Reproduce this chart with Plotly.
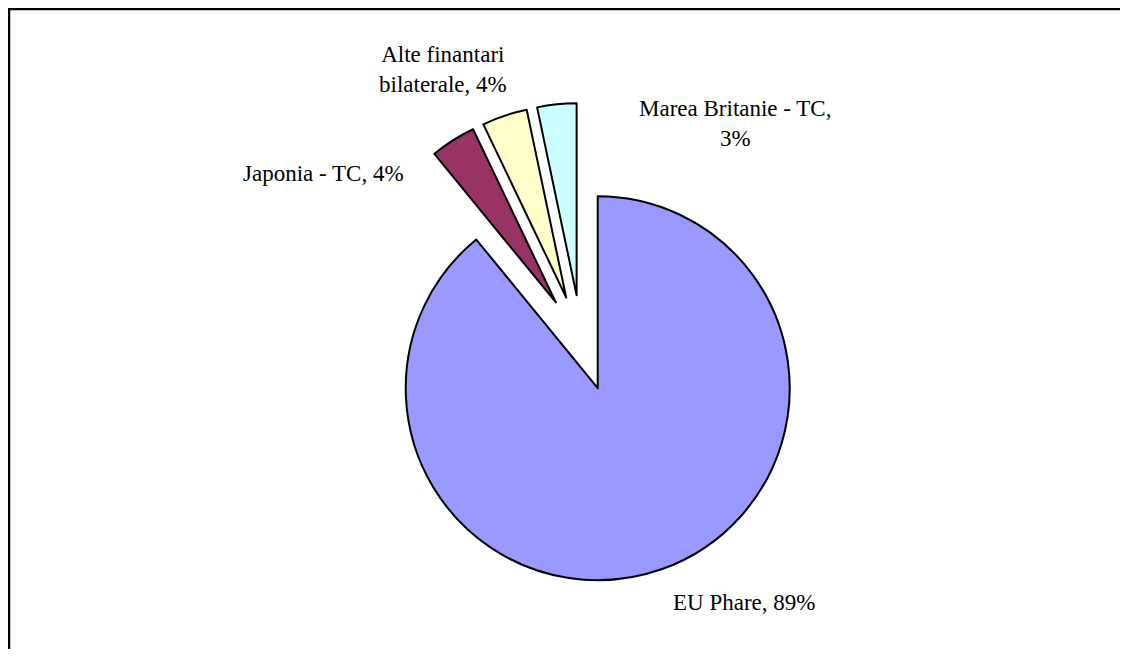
import textwrap
import plotly.graph_objects as go

labels = ["EU Phare", "Japonia - TC", "Alte finantari bilaterale", "Marea Britanie - TC"]
values = [89.1, 3.8, 3.8, 3.3]
colors = ["#9999FF", "#993366", "#FFFFCC", "#CCFFFF"]
pulls = [0.25, 0.25, 0.25, 0.25]

# The page body has an 8px margin, so the figure is 16px smaller than the window
OFF = 8
W, H = 1128 - 2 * OFF, 657 - 2 * OFF


def px(x):
    return (x - OFF) / W


def py(y):
    return 1 - (y - OFF) / H


# label anchor positions (window pixels) for the data labels
label_pos = [(744, 602), (323, 173), (443, 70), (735, 124)]

total = sum(values)
texts = []
for lab, v in zip(labels, values):
    pct = round(v / total * 100)
    texts.append("<br>".join(textwrap.wrap(f"{lab}, {pct}%", 20)))

fig = go.Figure(go.Pie(
    labels=labels,
    values=values,
    sort=False,
    direction="clockwise",
    rotation=0,
    pull=pulls,
    marker=dict(colors=colors, line=dict(color="black", width=2)),
    textinfo="none",
    hoverinfo="label+percent",
    showlegend=False,
    domain=dict(x=[px(341.6), px(821.6)], y=[py(583), py(103)]),
))

annotations = []
for t, (ax, ay) in zip(texts, label_pos):
    annotations.append(dict(
        text=t, x=px(ax), y=py(ay), xref="paper", yref="paper",
        xanchor="center", yanchor="middle", showarrow=False, align="center",
        font=dict(family="Liberation Serif", size=23, color="black"),
    ))

fig.update_layout(
    width=W, height=H,
    margin=dict(l=0, r=0, t=0, b=0),
    paper_bgcolor="white", plot_bgcolor="white",
    annotations=annotations,
    shapes=[dict(type="rect", xref="paper", yref="paper",
                 x0=px(9), x1=1.1, y0=-0.1, y1=py(9),
                 line=dict(color="black", width=2.5))],
)

fig.write_html("out.html")
